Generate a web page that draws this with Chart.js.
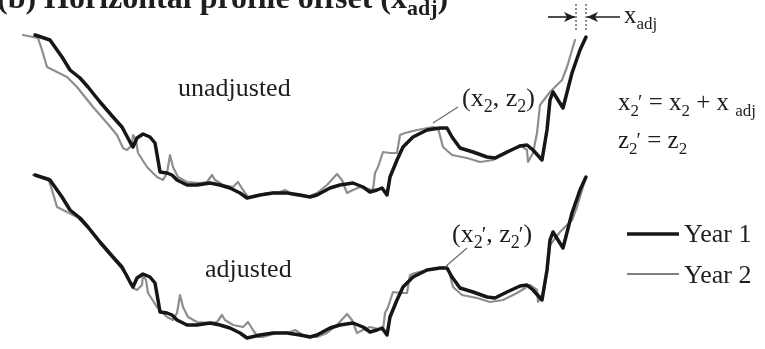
<!DOCTYPE html>
<html>
<head>
<meta charset="utf-8">
<script src="https://cdn.jsdelivr.net/npm/chart.js@4.4.0/dist/chart.umd.min.js"></script>
<style>
  html, body { margin: 0; padding: 0; background: #fff; }
  #wrap { width: 765px; height: 349px; }
</style>
</head>
<body>
<div id="wrap"><canvas id="profileChart" width="765" height="349"></canvas></div>
<script>
// beach profiles: distance along transect and elevation (arbitrary units)
const year1X = [35, 50, 62, 70, 80, 88, 100, 113, 122, 130, 133, 137, 143, 150, 155, 158, 160, 167, 172, 177,
  187, 197, 210, 220, 230, 240, 247, 260, 273, 287, 300, 310, 317, 330, 340, 353, 363, 370, 377, 382,
  387, 390, 397, 403, 413, 427, 440, 447, 452, 460, 473, 487, 495, 507, 520, 527, 533, 542, 547, 550,
  553, 563, 572, 580, 586];
const year1Z = [165, 160, 143, 130, 122, 113, 98, 83, 73, 58, 53, 62, 66, 63, 57, 40, 28, 27, 25, 20,
  15, 15, 17, 15, 12, 7, 2, 5, 7, 7, 5, 3, 5, 12, 15, 17, 13, 8, 10, 12,
  5, 23, 40, 53, 63, 70, 72, 72, 63, 52, 48, 43, 42, 48, 54, 55, 50, 40, 70, 100,
  108, 92, 127, 150, 163];

const year2X = [23, 38, 42, 47, 53, 67, 77, 93, 107, 117, 123, 127, 132, 133, 136, 138, 147, 157, 163, 167,
  170, 173, 178, 187, 200, 207, 212, 215, 223, 233, 238, 243, 248, 253, 267, 280, 285, 293, 307, 317,
  327, 337, 342, 347, 353, 360, 373, 375, 378, 383, 390, 397, 400, 405, 417, 433, 438, 443, 452, 467,
  480, 493, 507, 520, 527, 528, 533, 537, 540, 550, 562, 567, 575];
const year2Z = [165, 162, 150, 133, 130, 123, 113, 93, 77, 65, 52, 50, 55, 65, 60, 47, 33, 23, 20, 27,
  45, 33, 23, 18, 17, 18, 25, 20, 15, 13, 18, 10, 3, 3, 7, 8, 10, 5, 3, 7,
  15, 26, 20, 7, 10, 13, 10, 27, 33, 48, 47, 47, 65, 67, 70, 73, 72, 53, 45, 42,
  38, 40, 47, 55, 50, 38, 47, 67, 95, 108, 120, 133, 160];

const xAdj = 10;        // horizontal offset applied to Year 2
const panelDrop = 140;  // vertical spacing between the two panels

const pts = (xs, zs, dx, dz) => xs.map((x, i) => ({ x: x + dx, y: zs[i] + dz }));

const BLACK = '#161616';
const GRAY = '#8e8e8e';
const SERIF = '"Liberation Serif", "DejaVu Serif", serif';

// draw a run of text pieces (normal / subscript / prime) starting at x, baseline y
function runs(ctx, x, y, parts, size, bold) {
  const w = bold ? 'bold ' : '';
  parts.forEach(p => {
    let s = size, dy = 0;
    if (p.sub) { s = Math.round(size * 0.68); dy = size * 0.22; }
    if (p.sup) { s = Math.round(size * 0.8); dy = -size * 0.05; }
    ctx.font = w + s + 'px ' + SERIF;
    ctx.fillText(p.t, x, y + dy);
    x += ctx.measureText(p.t).width + (p.gap || 0);
  });
}

function arrow(ctx, x1, y1, x2, y2) {
  ctx.beginPath();
  ctx.moveTo(x1, y1);
  ctx.lineTo(x2, y2);
  ctx.stroke();
  const dir = Math.sign(x2 - x1);
  ctx.beginPath();
  ctx.moveTo(x2, y2);
  ctx.lineTo(x2 - dir * 11, y2 - 5);
  ctx.lineTo(x2 - dir * 8, y2);
  ctx.lineTo(x2 - dir * 11, y2 + 5);
  ctx.closePath();
  ctx.fill();
}

const notes = {
  id: 'notes',
  afterDraw(chart) {
    const ctx = chart.ctx;
    const X = v => chart.scales.x.getPixelForValue(v);
    const Z = v => chart.scales.y.getPixelForValue(v);
    ctx.save();
    ctx.fillStyle = '#1e1e1e';
    ctx.strokeStyle = '#1e1e1e';
    ctx.textBaseline = 'alphabetic';

    // title (cut off at the top of the picture)
    runs(ctx, X(-3), Z(192), [
      { t: '(b) Horizontal profile offset (x' },
      { t: 'adj', sub: true },
      { t: ')' }
    ], 32, true);

    runs(ctx, X(178), Z(104), [{ t: 'unadjusted' }], 26);
    runs(ctx, X(205), Z(-77), [{ t: 'adjusted' }], 26);

    // point labels with leader lines
    runs(ctx, X(462), Z(94), [
      { t: '(x' }, { t: '2', sub: true }, { t: ', z' }, { t: '2', sub: true }, { t: ')' }
    ], 26);
    runs(ctx, X(452), Z(-42), [
      { t: '(x' }, { t: '2', sub: true, gap: -1 }, { t: '\u2032', sup: true }, { t: ', z' },
      { t: '2', sub: true, gap: -1 }, { t: '\u2032', sup: true }, { t: ')' }
    ], 26);
    ctx.strokeStyle = '#6f6f6f';
    ctx.lineWidth = 1.3;
    ctx.beginPath();
    ctx.moveTo(X(433), Z(77)); ctx.lineTo(X(458), Z(93));
    ctx.moveTo(X(445), Z(-67)); ctx.lineTo(X(467), Z(-48));
    ctx.stroke();

    // x_adj dimension at the landward end
    const xa = year2X[year2X.length - 1] + 1;
    const xb = year1X[year1X.length - 1];
    ctx.strokeStyle = '#1e1e1e';
    ctx.lineWidth = 1;
    ctx.setLineDash([2, 2]);
    ctx.beginPath();
    ctx.moveTo(X(xa), Z(196)); ctx.lineTo(X(xa), Z(170));
    ctx.moveTo(X(xb), Z(196)); ctx.lineTo(X(xb), Z(170));
    ctx.stroke();
    ctx.setLineDash([]);
    ctx.lineWidth = 1.6;
    arrow(ctx, X(548), Z(183), X(xa - 1), Z(183));
    arrow(ctx, X(620), Z(183), X(xb + 1), Z(183));
    runs(ctx, X(624), Z(177), [{ t: 'x' }, { t: 'adj', sub: true }], 25);

    // adjustment equations
    runs(ctx, X(618), Z(90), [
      { t: 'x' }, { t: '2', sub: true, gap: -1 }, { t: '\u2032', sup: true }, { t: ' = x' },
      { t: '2', sub: true }, { t: ' + x ' }, { t: 'adj', sub: true }
    ], 25);
    runs(ctx, X(618), Z(52), [
      { t: 'z' }, { t: '2', sub: true, gap: -1 }, { t: '\u2032', sup: true }, { t: ' = z' },
      { t: '2', sub: true }
    ], 25);

    // legend
    ctx.lineWidth = 3.4;
    ctx.strokeStyle = BLACK;
    ctx.beginPath(); ctx.moveTo(X(627), Z(-34)); ctx.lineTo(X(679), Z(-34)); ctx.stroke();
    ctx.lineWidth = 1.6;
    ctx.strokeStyle = '#555';
    ctx.beginPath(); ctx.moveTo(X(627), Z(-74)); ctx.lineTo(X(679), Z(-74)); ctx.stroke();
    runs(ctx, X(684), Z(-42), [{ t: 'Year 1' }], 26);
    runs(ctx, X(684), Z(-83), [{ t: 'Year 2' }], 26);
    ctx.restore();
  }
};

const line = (label, data, color, width) => ({
  label, data, showLine: true, fill: false,
  borderColor: color, borderWidth: width, borderJoinStyle: 'round', borderCapStyle: 'round',
  pointRadius: 0, tension: 0
});

new Chart(document.getElementById('profileChart'), {
  type: 'scatter',
  data: {
    datasets: [
      line('Year 1', pts(year1X, year1Z, 0, 0), BLACK, 3.5),
      line('Year 1 adjusted', pts(year1X, year1Z, 0, -panelDrop), BLACK, 3.5),
      line('Year 2', pts(year2X, year2Z, 0, 0), GRAY, 2.2),
      line('Year 2 adjusted', pts(year2X, year2Z, xAdj, -panelDrop), GRAY, 2.2)
    ]
  },
  options: {
    responsive: false,
    animation: false,
    devicePixelRatio: 1,
    layout: { padding: 0 },
    plugins: { legend: { display: false }, tooltip: { enabled: false }, title: { display: false } },
    scales: {
      x: { type: 'linear', min: 0, max: 765, display: false },
      y: { type: 'linear', min: -149, max: 200, display: false }
    }
  },
  plugins: [notes]
});
</script>
</body>
</html>
